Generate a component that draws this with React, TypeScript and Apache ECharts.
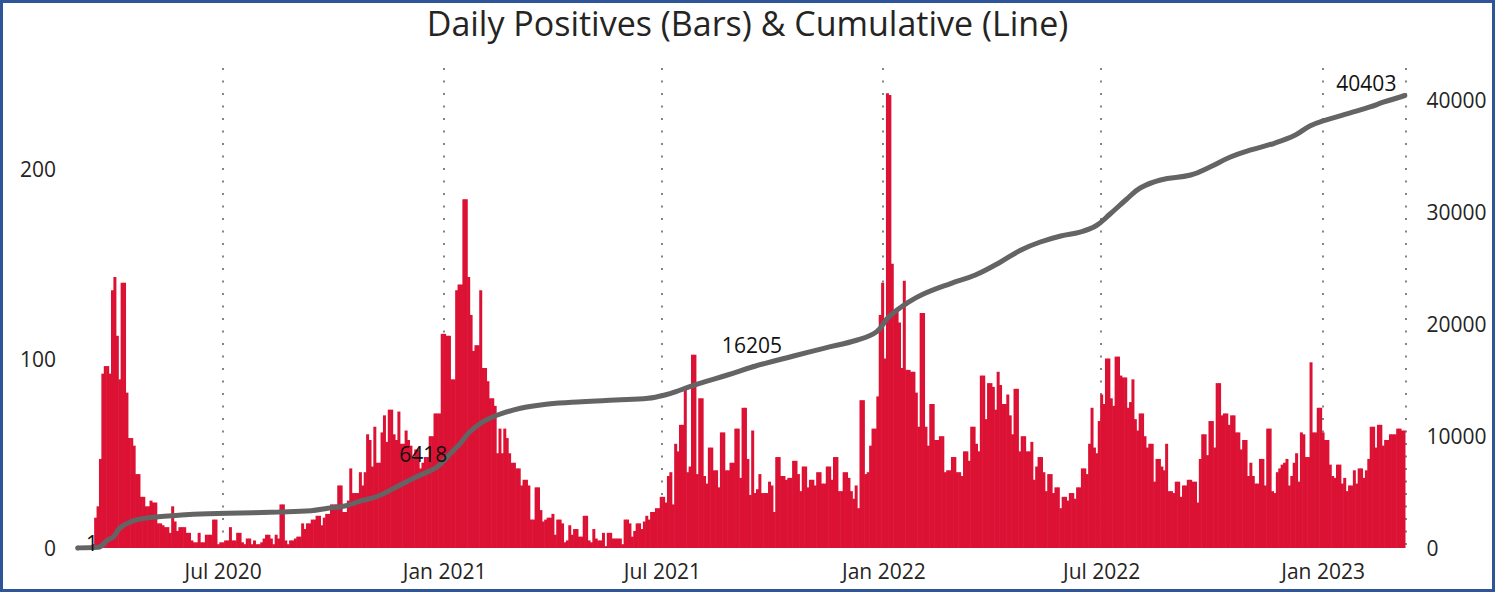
import React, { useEffect, useRef } from "react";
import * as echarts from "echarts";

// ---------- data ----------
const firstDay = "2020-03-02";
const lastDay = "2023-03-10";

// Daily positives, read every second day (first reading on 2020-03-03)
const positivesMar2020toJul2020 = [
  1, 0, 0, 1, 1, 1, 2, 16, 22, 47,
  92, 96, 96, 92, 136, 143, 112, 89, 140, 140,
  82, 58, 58, 54, 39, 39, 27, 27, 22, 22,
  25, 24, 24, 13, 13, 12, 11, 11, 8, 22,
  14, 9, 11, 11, 11, 8, 8, 4, 3, 3,
  8, 3, 3, 7, 7, 7, 15, 15, 2, 3,
  3, 4, 4,
];
const positivesJul2020toNov2020 = [
  11, 4, 4, 8, 8, 3, 2, 5, 5, 2,
  4, 2, 2, 3, 5, 7, 7, 5, 2, 7,
  5, 23, 23, 4, 2, 4, 4, 5, 6, 6,
  13, 10, 13, 13, 15, 15, 17, 17, 12, 16,
  18, 18, 23, 23, 23, 33, 33, 19, 19, 25,
  42, 29, 29, 29, 40, 33, 40, 60, 57, 43,
  64, 45,
];
const positivesNov2020toFeb2021 = [
  45, 61, 70, 56, 73, 73, 60, 57, 72, 55,
  55, 62, 57, 54, 47, 52, 52, 42, 45, 48,
  48, 59, 59, 71, 71, 71, 113, 113, 112, 112,
  89, 89, 136, 139, 139, 184, 184, 143, 123, 104,
  107, 107, 136, 95, 95, 88, 79, 79, 75, 50,
  63, 50, 63, 58, 50, 45, 45,
];
const positivesFeb2021toJul2021 = [
  42, 42, 33, 36, 36, 33, 15, 15, 32, 32,
  20, 14, 15, 16, 16, 18, 7, 15, 15, 13,
  3, 4, 12, 7, 10, 10, 6, 6, 17, 17,
  4, 3, 10, 5, 4, 4, 8, 1, 8, 8,
  5, 5, 5, 5, 2, 15, 15, 13, 6, 9,
  13, 13, 10, 14, 17, 15, 19, 19, 21, 21,
];
const positivesJul2021toOct2021 = [
  27, 27, 24, 38, 40, 23, 55, 51, 65, 65,
  85, 40, 43, 102, 102, 39, 79, 79, 38, 34,
  53, 53, 41, 41, 32, 61, 61, 41, 41, 45,
  45, 63, 63, 37, 74, 74, 47, 28, 62, 29,
  31, 39, 29, 29, 29, 35, 33, 19, 48, 48,
  38, 38, 36, 37, 37,
];
const positivesOct2021toJan2022 = [
  46, 46, 39, 30, 43, 43, 32, 36, 36, 33,
  40, 40, 34, 34, 43, 43, 36, 48, 48, 30,
  30, 40, 40, 37, 30, 26, 33, 21, 78, 78,
  39, 40, 54, 63, 63, 80, 123, 140, 100, 240,
  239, 150, 124, 125, 119, 95, 141, 94, 94, 93,
  93, 82, 64,
];
const positivesJan2022toMay2022 = [
  124, 124, 64, 54, 76, 76, 57, 57, 59, 59,
  40, 41, 41, 48, 48, 40, 40, 38, 51, 51,
  46, 64, 64, 55, 51, 91, 91, 68, 87, 87,
  85, 73, 93, 86, 76, 76, 81, 70, 60, 84,
  84, 51, 59, 59, 51, 51, 56, 36, 43, 48,
  48, 40, 30,
];
const positivesMay2022toAug2022 = [
  39, 39, 29, 32, 32, 21, 27, 27, 25, 29,
  29, 26, 32, 32, 42, 42, 39, 55, 74, 53,
  50, 67, 81, 76, 100, 100, 79, 75, 101, 101,
  91, 90, 90, 74, 77, 89, 68, 62, 71, 71,
  59, 53, 55, 55, 35, 47, 47, 43, 41, 55,
  30, 30,
];
const positivesAug2022toDec2022 = [
  29, 35, 35, 27, 33, 33, 36, 36, 35, 35,
  24, 47, 60, 60, 49, 67, 67, 53, 87, 87,
  70, 71, 71, 65, 70, 70, 61, 61, 52, 57,
  57, 38, 45, 38, 34, 34, 47, 47, 33, 63,
  63, 30, 29, 40, 42, 44, 45, 47, 33, 38,
  45, 50, 35, 61,
];
const positivesDec2022toMar2023 = [
  60, 48, 48, 98, 61, 61, 74, 74, 61, 57,
  57, 44, 38, 37, 44, 44, 34, 37, 30, 33,
  33, 41, 34, 42, 42, 37, 41, 47, 64, 64,
  53, 65, 65, 54, 57, 57, 60, 60, 60, 63,
  63, 62, 62,
];

// Cumulative positives (line)
const cumulativeDates = [
  "2020-03-02", "2020-03-19", "2020-03-27", "2020-04-01", "2020-04-05", "2020-04-09",
  "2020-04-13", "2020-04-21", "2020-05-08", "2020-05-25", "2020-06-12", "2020-07-05",
  "2020-08-16", "2020-09-12", "2020-09-26", "2020-10-10", "2020-10-24", "2020-11-07",
  "2020-11-25", "2020-12-10", "2020-12-26", "2021-01-06", "2021-01-14", "2021-01-22",
  "2021-02-02", "2021-02-14", "2021-03-05", "2021-03-28", "2021-04-25", "2021-05-23",
  "2021-06-19", "2021-07-03", "2021-07-16", "2021-08-01", "2021-08-24", "2021-09-15",
  "2021-10-18", "2021-11-12", "2021-12-10", "2021-12-26", "2022-01-04", "2022-01-12",
  "2022-01-20", "2022-02-02", "2022-02-26", "2022-03-18", "2022-04-08", "2022-04-25",
  "2022-05-11", "2022-05-28", "2022-06-13", "2022-06-26", "2022-07-08", "2022-07-21",
  "2022-08-02", "2022-08-19", "2022-09-13", "2022-09-29", "2022-10-16", "2022-11-02",
  "2022-11-22", "2022-12-09", "2022-12-21", "2023-01-01", "2023-01-23", "2023-02-09",
  "2023-02-20", "2023-03-10",
];
const cumulativeValues = [
  1, 60, 714, 1009, 1652, 2009,
  2232, 2545, 2795, 2920, 3036, 3098,
  3214, 3330, 3545, 3750, 4223, 4643,
  5625, 6418, 7259, 8455, 9348, 10384,
  11277, 11875, 12473, 12857, 13063, 13214,
  13366, 13661, 14107, 14705, 15446, 16205,
  17143, 17830, 18571, 19313, 20509, 21250,
  21848, 22634, 23634, 24375, 25540, 26610,
  27320, 27860, 28210, 28750, 29820, 31070,
  32140, 32860, 33300, 34020, 34910, 35540,
  36160, 36880, 37680, 38130, 38830, 39380,
  39800, 40403,
];
const labelledDates = ["2020-03-02", "2020-12-10", "2021-09-15", "2023-03-10"];

const leftTicks = { min: 0, interval: 100, max: 253.3 };
const rightTicks = { min: 0, interval: 10000, max: 42857 };

const monthNames = ["Jan", "Feb", "Mar", "Apr", "May", "Jun", "Jul", "Aug", "Sep", "Oct", "Nov", "Dec"];

// ---------- helpers ----------
function buildDays(): string[] {
  const out: string[] = [];
  const d = new Date(firstDay + "T00:00:00Z");
  const end = new Date(lastDay + "T00:00:00Z");
  while (d.getTime() <= end.getTime()) {
    out.push(d.toISOString().slice(0, 10));
    d.setUTCDate(d.getUTCDate() + 1);
  }
  return out;
}
const isHalfYear = (v: string) => v.endsWith("-01-01") || v.endsWith("-07-01");
const fmtDay = (v: string) => monthNames[Number(v.slice(5, 7)) - 1] + " " + v.slice(0, 4);

const FONT = "'Open Sans', 'Noto Sans', sans-serif";
const TEXT = "#252423";

export default function App() {
  const ref = useRef<HTMLDivElement>(null);

  useEffect(() => {
    document.body.style.margin = "0";
    if (!ref.current) return;
    const chart = echarts.init(ref.current, undefined, { renderer: "svg" });

    const days = buildDays();
    const positives = [
      ...positivesMar2020toJul2020,
      ...positivesJul2020toNov2020,
      ...positivesNov2020toFeb2021,
      ...positivesFeb2021toJul2021,
      ...positivesJul2021toOct2021,
      ...positivesOct2021toJan2022,
      ...positivesJan2022toMay2022,
      ...positivesMay2022toAug2022,
      ...positivesAug2022toDec2022,
      ...positivesDec2022toMar2023,
    ];
    const barData = positives.map((v, k) => [days[2 * k + 1], v]);

    const labelCfg: Record<string, any> = {
      "2020-03-02": { position: "right", offset: [1, -5] },
      "2020-12-10": { position: "top", offset: [5, -4] },
      "2021-09-15": { position: "top", offset: [-2, -4] },
      "2023-03-10": { position: "left", offset: [-1, -12] },
    };

    const lineData = cumulativeDates.map((d, i) => {
      if (labelledDates.indexOf(d) >= 0) {
        return {
          value: [d, cumulativeValues[i]],
          symbol: "circle",
          symbolSize: 5,
          itemStyle: { color: "#646464", borderWidth: 0 },
          label: {
            show: true,
            ...labelCfg[d],
            formatter: (p: any) => String(p.value[1]),
            fontFamily: FONT,
            fontSize: 21,
            color: "#111",
          },
        };
      }
      return { value: [d, cumulativeValues[i]] };
    });

    chart.setOption({
      animation: false,
      title: {
        text: "Daily Positives (Bars) & Cumulative (Line)",
        left: "center",
        top: 1,
        textStyle: { fontFamily: FONT, fontSize: 34, fontWeight: "normal", color: TEXT },
      },
      grid: { left: 77, right: 89.5, top: 68, bottom: 44, containLabel: false },
      xAxis: {
        type: "category",
        data: days,
        boundaryGap: true,
        axisLine: { show: false },
        axisTick: { show: false },
        axisLabel: {
          interval: (_i: number, v: string) => isHalfYear(v),
          formatter: (v: string) => fmtDay(v),
          fontFamily: FONT,
          fontSize: 21,
          color: TEXT,
          margin: 12,
        },
        splitLine: {
          show: true,
          interval: (_i: number, v: string) => isHalfYear(v),
          lineStyle: { type: [2, 10.5], color: "#707070", width: 1.7 },
        },
      },
      yAxis: [
        {
          type: "value",
          min: leftTicks.min,
          max: leftTicks.max,
          interval: leftTicks.interval,
          splitLine: { show: false },
          axisLine: { show: false },
          axisTick: { show: false },
          axisLabel: {
            showMaxLabel: false,
            formatter: (v: number) => String(v),
            fontFamily: FONT,
            fontSize: 21,
            color: TEXT,
            margin: 21,
          },
        },
        {
          type: "value",
          position: "right",
          min: rightTicks.min,
          max: rightTicks.max,
          interval: rightTicks.interval,
          splitLine: { show: false },
          axisLine: { show: false },
          axisTick: { show: false },
          axisLabel: {
            showMaxLabel: false,
            formatter: (v: number) => String(v),
            fontFamily: FONT,
            fontSize: 21,
            color: TEXT,
            margin: 21,
          },
        },
      ],
      series: [
        {
          type: "bar",
          yAxisIndex: 0,
          data: barData,
          barWidth: 3,
          itemStyle: { color: "#DC1234" },
        },
        {
          type: "line",
          yAxisIndex: 1,
          data: lineData,
          symbol: "none",
          showSymbol: true,
          showAllSymbol: true,
          smooth: 0.4,
          lineStyle: { width: 5, color: "#646464" },
          z: 5,
        },
      ],
      graphic: [
        {
          type: "rect",
          z: 100,
          shape: { x: 1.5, y: 1.5, width: 1492, height: 589 },
          style: { fill: "none", stroke: "#2E5597", lineWidth: 3 },
        },
      ],
    });

    return () => chart.dispose();
  }, []);

  return <div ref={ref} style={{ width: 1495, height: 592 }} />;
}
